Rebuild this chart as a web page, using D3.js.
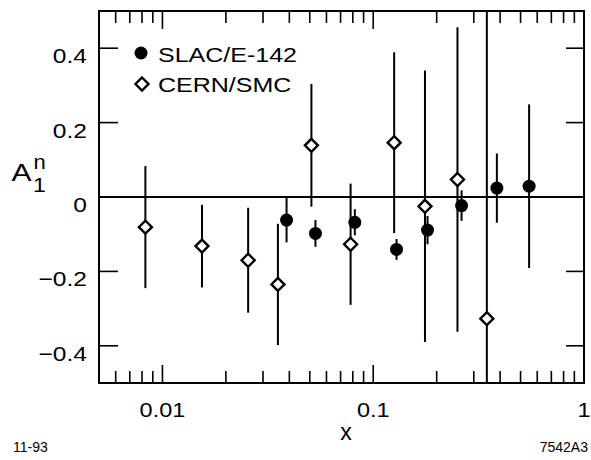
<!DOCTYPE html>
<html>
<head>
<meta charset="utf-8">
<script src="https://cdn.jsdelivr.net/npm/d3@7"></script>
<style>
  body { margin: 0; background: #fff; }
  svg { display: block; }
  text { font-family: "Liberation Sans", Arial, Helvetica, sans-serif; fill: #000; }
</style>
</head>
<body>
<div id="chart"></div>
<script>
// SLAC/E-142 points (filled circles)
const slacX = [0.0388, 0.0532, 0.0818, 0.129, 0.181, 0.2625, 0.386, 0.549];
const slacY = [-0.062, -0.098, -0.068, -0.141, -0.089, -0.023, 0.024, 0.029];
const slacErr = [0.060, 0.036, 0.035, 0.028, 0.038, 0.041, 0.093, 0.220];

// CERN/SMC points (open diamonds)
const cernX = [0.0083, 0.0154, 0.0255, 0.0353, 0.0509, 0.0781, 0.1257, 0.176, 0.251, 0.346];
const cernY = [-0.081, -0.132, -0.170, -0.235, 0.139, -0.127, 0.146, -0.025, 0.047, -0.327];
const cernErr = [0.164, 0.111, 0.141, 0.163, 0.165, 0.163, 0.243, 0.365, 0.409, 0.900];

const yTicks = [-0.4, -0.2, 0, 0.2, 0.4];
const yTickLabels = ["\u22120.4", "\u22120.2", "0", "0.2", "0.4"];
const xMajor = [0.01, 0.1, 1];
const xMajorLabels = ["0.01", "0.1", "1"];

const width = 591, height = 460;
const plotLeft = 99, plotRight = 584, plotTop = 11, plotBottom = 383;

const x = d3.scaleLog().domain([0.005, 1]).range([plotLeft, plotRight]);
const y = d3.scaleLinear().domain([-0.5, 0.5]).range([plotBottom, plotTop]);

const svg = d3.select("#chart").append("svg")
    .attr("width", width)
    .attr("height", height);

svg.append("clipPath").attr("id", "plotclip")
    .append("rect")
    .attr("x", plotLeft).attr("y", plotTop)
    .attr("width", plotRight - plotLeft).attr("height", plotBottom - plotTop);

// stretched helvetica-ish text like the original figure
function label(str, tx, ty, size, sx, anchor) {
    return svg.append("text")
        .attr("transform", `translate(${tx},${ty}) scale(${sx},1)`)
        .attr("font-size", size)
        .attr("text-anchor", anchor || "start")
        .text(str);
}

// zero line
svg.append("line")
    .attr("x1", plotLeft).attr("x2", plotRight)
    .attr("y1", y(0)).attr("y2", y(0))
    .attr("stroke", "#000").attr("stroke-width", 2);

// x ticks (log, minor + major), bottom and top
const xTicks = x.ticks().filter(d => d > 0.0051 && d < 0.999);
xTicks.push(1);
xTicks.forEach(d => {
    const major = Math.abs(Math.log10(d) - Math.round(Math.log10(d))) < 1e-6;
    const len = major ? 18 : 12;
    svg.append("line")
        .attr("x1", x(d)).attr("x2", x(d))
        .attr("y1", plotBottom).attr("y2", plotBottom - len)
        .attr("stroke", "#000").attr("stroke-width", 1.6);
    svg.append("line")
        .attr("x1", x(d)).attr("x2", x(d))
        .attr("y1", plotTop).attr("y2", plotTop + len)
        .attr("stroke", "#000").attr("stroke-width", 1.6);
});

// y ticks, left and right
yTicks.forEach((d, i) => {
    svg.append("line")
        .attr("x1", plotLeft).attr("x2", plotLeft + 19)
        .attr("y1", y(d)).attr("y2", y(d))
        .attr("stroke", "#000").attr("stroke-width", 1.6);
    svg.append("line")
        .attr("x1", plotRight - 18).attr("x2", plotRight)
        .attr("y1", y(d)).attr("y2", y(d))
        .attr("stroke", "#000").attr("stroke-width", 1.6);
    label(yTickLabels[i], 87, y(d) + 15, 21, 1.17, "end");
});

xMajor.forEach((d, i) => {
    label(xMajorLabels[i], x(d), 416.5, 21, 1.12, "middle");
});

// frame
svg.append("rect")
    .attr("x", plotLeft).attr("y", plotTop)
    .attr("width", plotRight - plotLeft).attr("height", plotBottom - plotTop)
    .attr("fill", "none").attr("stroke", "#000").attr("stroke-width", 2);

const plot = svg.append("g").attr("clip-path", "url(#plotclip)");

const slac = slacX.map((d, i) => ({x: d, y: slacY[i], e: slacErr[i]}));
const cern = cernX.map((d, i) => ({x: d, y: cernY[i], e: cernErr[i]}));

// error bars
plot.selectAll(".err-cern")
    .data(cern)
    .enter()
    .append("line")
    .attr("class", "err-cern")
    .attr("x1", d => x(d.x)).attr("x2", d => x(d.x))
    .attr("y1", d => y(d.y + d.e)).attr("y2", d => y(d.y - d.e))
    .attr("stroke", "#000").attr("stroke-width", 2);

plot.selectAll(".err-slac")
    .data(slac)
    .enter()
    .append("line")
    .attr("class", "err-slac")
    .attr("x1", d => x(d.x)).attr("x2", d => x(d.x))
    .attr("y1", d => y(d.y + d.e)).attr("y2", d => y(d.y - d.e))
    .attr("stroke", "#000").attr("stroke-width", 2);

const diamond = "M0,-6.5L6.5,0L0,6.5L-6.5,0Z";

plot.selectAll(".cern")
    .data(cern)
    .enter()
    .append("path")
    .attr("class", "cern")
    .attr("d", diamond)
    .attr("transform", d => `translate(${x(d.x)},${y(d.y)})`)
    .attr("fill", "#fff")
    .attr("stroke", "#000")
    .attr("stroke-width", 2.4);

plot.selectAll(".slac")
    .data(slac)
    .enter()
    .append("circle")
    .attr("class", "slac")
    .attr("cx", d => x(d.x))
    .attr("cy", d => y(d.y))
    .attr("r", 6.5)
    .attr("fill", "#000");

// legend
svg.append("circle").attr("cx", 141).attr("cy", 53).attr("r", 6.5).attr("fill", "#000");
label("SLAC/E-142", 158, 61.5, 20.5, 1.22);
svg.append("path")
    .attr("d", diamond)
    .attr("transform", "translate(142,84)")
    .attr("fill", "#fff").attr("stroke", "#000").attr("stroke-width", 2.4);
label("CERN/SMC", 158, 92, 20.5, 1.22);

// axis titles
label("A", 11.5, 181, 24, 1.25);
label("n", 33.5, 169, 20, 1.1);
label("1", 33, 191.5, 21, 1.1);
svg.append("text")
    .attr("x", 346).attr("y", 440)
    .attr("font-size", 23)
    .attr("text-anchor", "middle")
    .text("x");

// plate ids
svg.append("text").attr("x", 13).attr("y", 452).attr("font-size", 14).text("11-93");
svg.append("text").attr("x", 588).attr("y", 452).attr("font-size", 14)
    .attr("text-anchor", "end").text("7542A3");
</script>
</body>
</html>
